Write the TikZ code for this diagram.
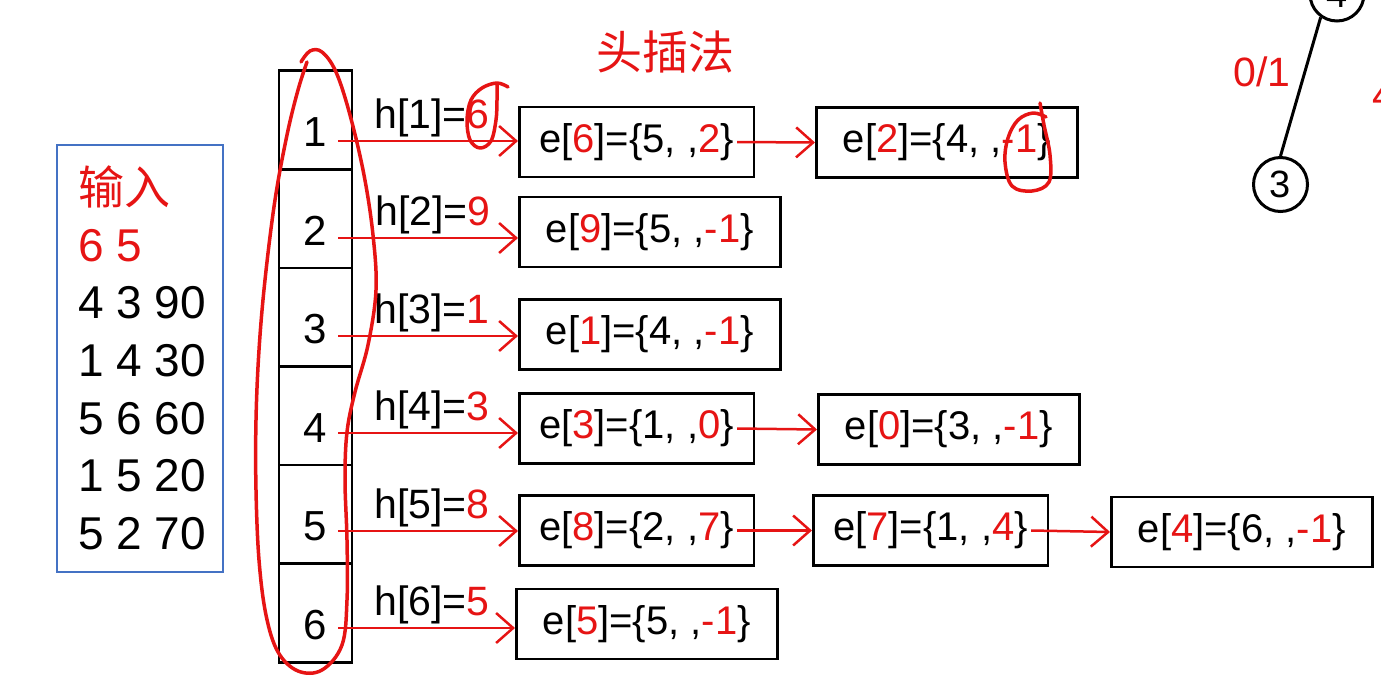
\documentclass[tikz,border=0pt]{standalone}
\usepackage{fontspec}
\setmainfont{Liberation Sans}
\newfontfamily\cjk{Noto Sans CJK SC}
\usepackage{xcolor}
\usetikzlibrary{arrows.meta}
\definecolor{penred}{RGB}{230,20,20}
\definecolor{boxblue}{RGB}{68,114,196}
\newcommand{\rd}[1]{\textcolor{penred}{#1}}

\tikzset{
  cell/.style={draw, line width=2.5pt, minimum width=73pt, minimum height=98.6pt, inner sep=0pt},
  ebox/.style={draw, line width=2.5pt, minimum height=70pt, inner xsep=20pt, anchor=west, font=\fontsize{40}{48}\selectfont},
  wide/.style={minimum width=261pt},
  link/.style={penred, line width=2.5pt, -{Straight Barb[length=17pt,width=30pt]}},
  hlab/.style={anchor=base west, inner sep=0pt, font=\fontsize{41}{48}\selectfont},
  inrow/.style={anchor=base west, inner sep=0pt, font=\fontsize{46}{55}\selectfont},
  ink/.style={penred, line width=3.5pt, line cap=round, line join=round},
  vtx/.style={circle, draw, line width=3pt, minimum size=54pt, inner sep=0pt, font=\fontsize{38}{44}\selectfont},
}

\begin{document}
\begin{tikzpicture}[x=1pt,y=-1pt]
  \useasboundingbox (0,0) rectangle (1381,680);
  \clip (0,0) rectangle (1381,680);
  \node[penred, font=\cjk\fontsize{46}{55}\selectfont] (title) at (665,52) {头插法};
  % input
  \node[draw=boxblue, line width=2pt, minimum width=166pt, minimum height=427pt] (inbox) at (140,358.5) {};
  \node[inrow, penred, font=\cjk\fontsize{46}{55}\selectfont] (in0) at (78,204) {输入};
  \node[inrow, penred] (in1) at (78,261) {6 5};
  \node[inrow] (in2) at (78,318) {4 3 90};
  \node[inrow] (in3) at (78,376) {1 4 30};
  \node[inrow] (in4) at (78,434) {5 6 60};
  \node[inrow] (in5) at (78,491) {1 5 20};
  \node[inrow] (in6) at (78,549) {5 2 70};
  % head array
  \foreach \i in {1,...,6}
    \node[cell, label={[yshift=-12pt, font=\fontsize{42}{48}\selectfont]center:\i}] (c\i) at (315.5,{120+98.6*(\i-1)}) {};
  \coordinate (a1) at (338,141);
  \coordinate (a2) at (338,238);
  \coordinate (a3) at (338,336);
  \coordinate (a4) at (338,433);
  \coordinate (a5) at (338,531);
  \coordinate (a6) at (338,628);
  \node[hlab] (h1) at (374,128) {h[1]=\rd{6}};
  \node[hlab] (h2) at (375,225) {h[2]=\rd{9}};
  \node[hlab] (h3) at (374,323) {h[3]=\rd{1}};
  \node[hlab] (h4) at (374,420) {h[4]=\rd{3}};
  \node[hlab] (h5) at (374,518) {h[5]=\rd{8}};
  \node[hlab] (h6) at (374,615) {h[6]=\rd{5}};
  % edge lists
  \node[ebox] (e6) at (518,142) {e[\rd{6}]=\{5, ,\rd{2}\}};
  \node[ebox, wide] (e2) at (815,142.5) {e[\rd{2}]=\{4, ,\rd{-1}\}};
  \node[ebox, wide] (e9) at (518,232) {e[\rd{9}]=\{5, ,\rd{-1}\}};
  \node[ebox, wide] (e1) at (518,334.5) {e[\rd{1}]=\{4, ,\rd{-1}\}};
  \node[ebox] (e3) at (518,428.5) {e[\rd{3}]=\{1, ,\rd{0}\}};
  \node[ebox, wide] (e0) at (817,429.5) {e[\rd{0}]=\{3, ,\rd{-1}\}};
  \node[ebox] (e8) at (518,530.5) {e[\rd{8}]=\{2, ,\rd{7}\}};
  \node[ebox] (e7) at (812,530.5) {e[\rd{7}]=\{1, ,\rd{4}\}};
  \node[ebox, wide] (e4) at (1110,532) {e[\rd{4}]=\{6, ,\rd{-1}\}};
  \node[ebox, wide] (e5) at (515,624) {e[\rd{5}]=\{5, ,\rd{-1}\}};
  \draw[link] (a1) -- (a1 -| e6.west);
  \draw[link] (a2) -- (a2 -| e9.west);
  \draw[link] (a3) -- (a3 -| e1.west);
  \draw[link] (a4) -- (a4 -| e3.west);
  \draw[link] (a5) -- (a5 -| e8.west);
  \draw[link] (a6) -- (a6 -| e5.west);
  \draw[link] ([xshift=-18pt]e6.east) -- (e2.west);
  \draw[link] ([xshift=-18pt]e3.east) -- (e0.west);
  \draw[link] ([xshift=-18pt]e8.east) -- (e7.west);
  \draw[link] ([xshift=-18pt]e7.east) -- (e4.west);
  % tree corner
  \node[vtx] (n4) at (1337,-6) {4};
  \node[vtx] (n3) at (1280.5,184.5) {3};
  \draw[line width=3pt] (n3.north) -- (n4.235);
  \node[penred, font=\fontsize{41}{48}\selectfont] (w01) at (1262,72) {0/1};
  \node[penred, anchor=base west, inner sep=0pt, font=\fontsize{41}{48}\selectfont] (w4) at (1372,109) {4};
  % pen marks
  \draw[ink] plot[smooth, tension=0.6] coordinates {(301,62) (310,51) (322,52) (336,72) (350,115) (364,175) (373,235) (376,290) (368,345) (355,392) (347,432) (345,480) (347,540) (347,600) (342,645) (322,670) (298,671) (278,652) (266,615) (259,560) (256,490) (256,420) (259,350) (265,280) (275,200) (287,135) (298,90) (307,62)};
  \draw[ink] plot[smooth, tension=0.6] coordinates {(508,87) (497,83) (482,88) (471,100) (467,120) (470,140) (480,148) (491,141) (496,120) (497,100) (497,84)};
  \draw[ink] plot[smooth, tension=0.6] coordinates {(1040,103) (1044,125) (1050,155) (1049,182) (1032,191) (1012,186) (1005,162) (1008,138) (1018,120) (1033,113) (1046,117)};
\end{tikzpicture}
\end{document}
